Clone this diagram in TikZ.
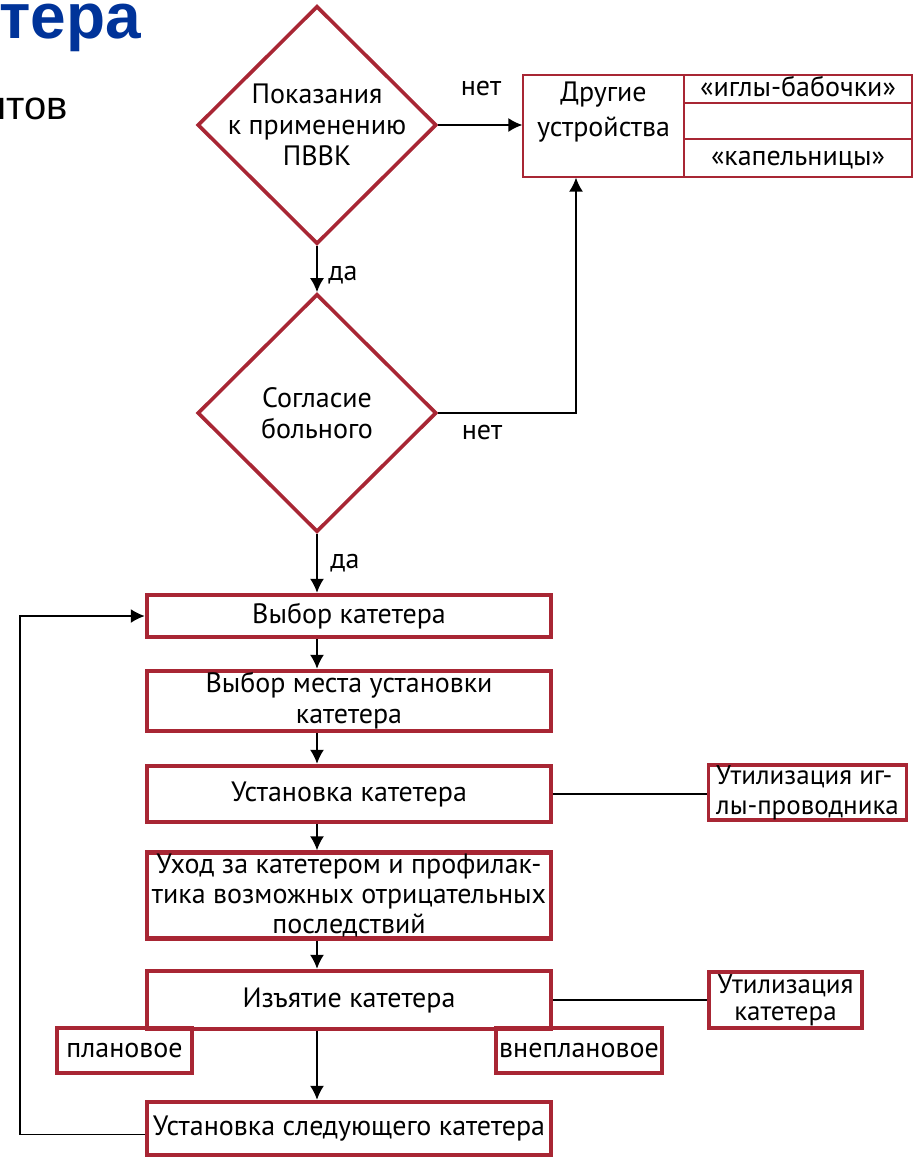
\documentclass[tikz,border=0pt]{standalone}
\usepackage{fontspec}
\setmainfont{PT Sans}
\newfontfamily\headfont{Liberation Sans}
\usetikzlibrary{shapes.geometric,arrows.meta}
\definecolor{boxred}{RGB}{168,38,52}
\definecolor{headblue}{RGB}{0,51,153}

\begin{document}
\begin{tikzpicture}[x=0.5pt,y=-0.5pt,
    every node/.style={font=\fontsize{14}{15.5}\selectfont},
    decision/.style={diamond,draw=boxred,line width=1.8pt,minimum width=119.5pt,minimum height=119pt,inner sep=0pt},
    stage/.style={rectangle,draw=boxred,line width=2.2pt,minimum width=202pt,inner sep=0pt,align=center},
    side/.style={rectangle,draw=boxred,line width=1.6pt,inner sep=0pt,align=center},
    thinbox/.style={rectangle,draw=boxred,line width=0.6pt,inner sep=0pt,align=center,text height=10pt,text depth=3pt},
    arr/.style={-{Latex[length=7pt,width=7pt]},line width=0.9pt},
    link/.style={line width=0.9pt}]
    \useasboundingbox (0,0) rectangle (914,1158);

    % cut-off slide heading
    \node[anchor=base west,inner sep=0pt,text=headblue,font=\headfont\bfseries\fontsize{32}{32}\selectfont] (title) at (-1,38) {тера};
    \node[anchor=base east,inner sep=0pt,font=\headfont\fontsize{20}{20}\selectfont] (subtitle) at (68,119) {нтов};

    % decisions
    \node[decision,label={[align=center]center:Показания\\к применению\\ПВВК}] (d1) at (317,125) {};
    \node[decision,label={[align=center]center:Согласие\\больного}] (d2) at (317,413) {};

    % other devices
    \node[thinbox,minimum width=80.5pt,minimum height=51pt,text height=,text depth=,
          label={[align=center,yshift=7pt,font=\fontsize{14}{17.5}\selectfont]center:Другие\\устройства}] (other) at (603.5,126) {};
    \node[thinbox,minimum width=114pt,minimum height=14pt] (butterfly) at (798,89) {«иглы-бабочки»};
    \node[thinbox,minimum width=114pt,minimum height=18pt] (blank) at (798,121) {};
    \node[thinbox,minimum width=114pt,minimum height=19pt] (drip) at (798,158) {«капельницы»};

    % main chain
    \node[stage,minimum height=21pt] (choose) at (349,616) {Выбор катетера};
    \node[stage,minimum height=30pt] (site) at (349,701) {Выбор места установки\\катетера};
    \node[stage,minimum height=28pt] (insert) at (349,794) {Установка катетера};
    \node[stage,minimum height=43pt,font=\fontsize{14}{15}\selectfont] (care) at (349,895.5) {Уход за катетером и профилак-\\тика возможных отрицательных\\последствий};
    \node[stage,minimum height=29pt] (remove) at (349,1000) {Изъятие катетера};
    \node[stage,minimum height=26.5pt] (next) at (349,1128.5) {Установка следующего катетера};

    \node[side,minimum width=99pt,minimum height=27.5pt,align=left,font=\fontsize{13.5}{15}\selectfont] (waste1) at (807.5,792.5) {Утилизация иг-\\лы-проводника};
    \node[side,minimum width=76.5pt,minimum height=28pt,font=\fontsize{13.5}{13.5}\selectfont] (waste2) at (785.5,1000) {Утилизация\\катетера};
    \node[side,minimum width=67.5pt,minimum height=22.5pt] (planned) at (124.5,1050.5) {плановое};
    \node[side,minimum width=83pt,minimum height=22.5pt] (unplanned) at (579,1050.5) {внеплановое};

    % connectors
    \draw[arr] (d1.east) -- (d1.east -| other.west);
    \node (no1) at (481,88) {нет};
    \draw[arr] (d1.south) -- (d2.north);
    \node (yes1) at (343,275) {да};
    \draw[arr] (d2.east) -| ([xshift=-13.75pt]other.south);
    \node (no2) at (482,432) {нет};
    \draw[arr] (d2.south) -- (choose.north -| d2.south);
    \node (yes2) at (345,563) {да};

    \foreach \a/\b in {choose/site,site/insert,insert/care,care/remove,remove/next} {
        \draw[arr] (\a.south -| d1.south) -- (\b.north -| d1.south);
    }

    \draw[link] (insert.east) -- (insert.east -| waste1.west);
    \draw[link] (remove.east) -- (waste2.west);

    \coordinate (loopx) at (20,616);
    \draw[arr] ([yshift=-3pt]next.west) -| (loopx) -- (choose.west);

\end{tikzpicture}
\end{document}
